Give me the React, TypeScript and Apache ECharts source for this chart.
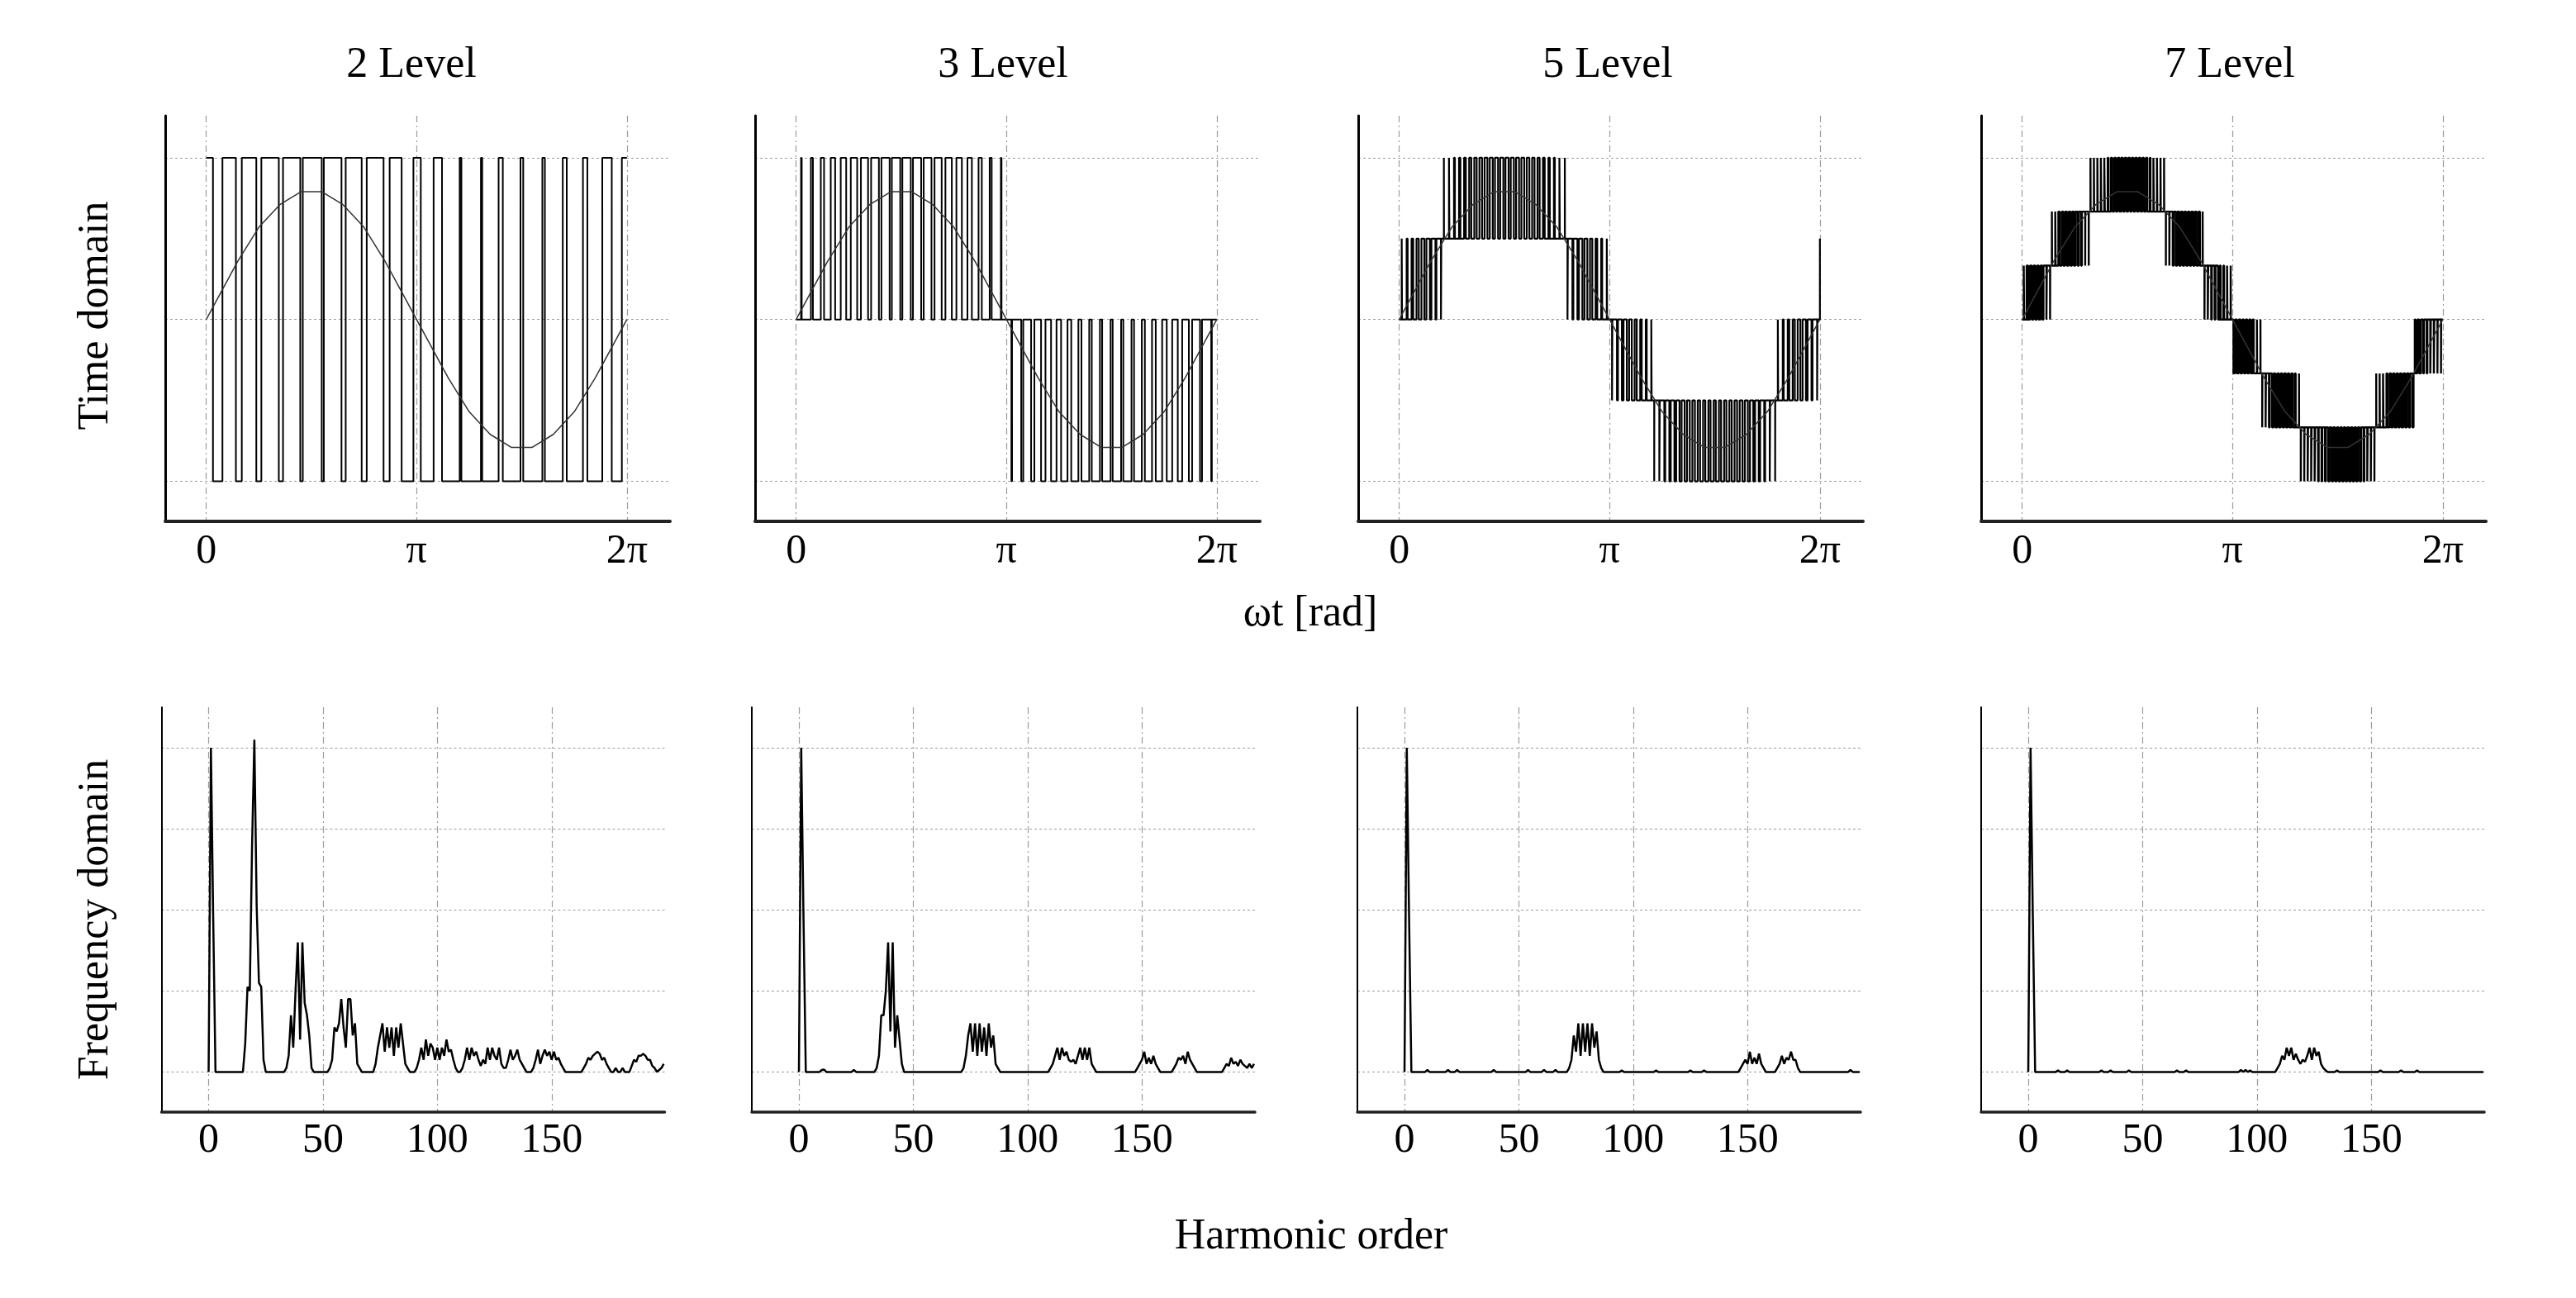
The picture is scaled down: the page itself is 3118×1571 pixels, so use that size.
import React, { useEffect, useRef } from 'react';
import * as echarts from 'echarts';

const W = 3118;
const H = 1571;
const FONT = 'Liberation Serif';

// ---------- texts / ticks ----------
const panelTitles = ['2 Level', '3 Level', '5 Level', '7 Level'];
const timeTickValues = [0, 1, 2];
const timeTickLabels = ['0', 'π', '2π'];
const timeLevelLines = [-1, 0, 1];
const freqTickValues = [0, 50, 100, 150];
const freqLevelLines = [0, 0.2, 0.4, 0.6, 0.8];

// ---------- reference sine (x in units of π) ----------
const sineX = [0, 0.05, 0.15, 0.25, 0.35, 0.45, 0.55, 0.65, 0.75, 0.85, 0.95, 1.05, 1.15, 1.25, 1.35, 1.45, 1.55, 1.65, 1.75, 1.85, 1.95, 2.0];
const sineY = [0, 0.12, 0.36, 0.57, 0.71, 0.79, 0.79, 0.71, 0.57, 0.36, 0.12, -0.12, -0.36, -0.57, -0.71, -0.79, -0.79, -0.71, -0.57, -0.36, -0.12, 0];

// ---------- 2 level: low (-1) intervals, x in units of π ----------
const level2LowStart = [0.032, 0.141, 0.238, 0.345, 0.447, 0.549, 0.643, 0.739, 0.843, 0.929, 1.020, 1.121, 1.213, 1.312, 1.410, 1.507, 1.610, 1.714, 1.812, 1.928];
const level2LowEnd = [0.077, 0.169, 0.262, 0.365, 0.459, 0.559, 0.663, 0.763, 0.872, 0.985, 1.081, 1.205, 1.306, 1.390, 1.494, 1.598, 1.695, 1.791, 1.883, 1.976];

// ---------- multilevel: bands [from, to, base level, pulse level] + pulse duty per slot ----------
const level3Bands = [[0, 1, 0, 1], [1, 2, 0, -1]];
const level3Duty = [
  [0.06, 0.19, 0.31, 0.42, 0.52, 0.61, 0.68, 0.74, 0.78, 0.80, 0.80, 0.78, 0.74, 0.68, 0.61, 0.52, 0.42, 0.31, 0.19, 0.06],
  [0.06, 0.19, 0.31, 0.42, 0.52, 0.61, 0.68, 0.74, 0.78, 0.80, 0.80, 0.78, 0.74, 0.68, 0.61, 0.52, 0.42, 0.31, 0.19, 0.06],
];

const level5Bands = [[0, 0.2, 0, 0.5], [0.2, 0.8, 0.5, 1], [0.8, 1, 0, 0.5], [1, 1.2, 0, -0.5], [1.2, 1.8, -0.5, -1], [1.8, 2, 0, -0.5]];
const level5Duty = [
  [0.06, 0.19, 0.31, 0.43, 0.55, 0.66, 0.77, 0.87],
  [0.02, 0.08, 0.17, 0.26, 0.33, 0.40, 0.45, 0.50, 0.54, 0.57, 0.59, 0.60, 0.60, 0.59, 0.57, 0.54, 0.50, 0.45, 0.40, 0.33, 0.26, 0.17, 0.08, 0.02],
  [0.87, 0.77, 0.66, 0.55, 0.43, 0.31, 0.19, 0.06],
  [0.06, 0.19, 0.31, 0.43, 0.55, 0.66, 0.77, 0.87],
  [0.02, 0.08, 0.17, 0.26, 0.33, 0.40, 0.45, 0.50, 0.54, 0.57, 0.59, 0.60, 0.60, 0.59, 0.57, 0.54, 0.50, 0.45, 0.40, 0.33, 0.26, 0.17, 0.08, 0.02],
  [0.87, 0.77, 0.66, 0.55, 0.43, 0.31, 0.19, 0.06],
];
const level5EndLevel = 0.5;

const level7Bands = [
  [0, 0.1333, 0, 0.333], [0.1333, 0.3167, 0.333, 0.667], [0.3167, 0.6833, 0.667, 1], [0.6833, 0.8667, 0.333, 0.667], [0.8667, 1, 0, 0.333],
  [1, 1.1333, 0, -0.333], [1.1333, 1.3167, -0.333, -0.667], [1.3167, 1.6833, -0.667, -1], [1.6833, 1.8667, -0.333, -0.667], [1.8667, 2, 0, -0.333],
];
const level7Duty = [
  [0.1, 0.45, 0.5, 0.5, 0.5, 0.55, 0.85, 0.92],
  [0.05, 0.12, 0.35, 0.45, 0.5, 0.5, 0.55, 0.6, 0.65, 0.95, 0.98],
  [0.04, 0.08, 0.1, 0.12, 0.15, 0.2, 0.4, 0.45, 0.5, 0.5, 0.5, 0.5, 0.5, 0.5, 0.5, 0.45, 0.4, 0.2, 0.12, 0.1, 0.08, 0.04],
  [0.97, 0.9, 0.6, 0.55, 0.5, 0.5, 0.5, 0.5, 0.45, 0.4, 0.05],
  [0.9, 0.85, 0.8, 0.75, 0.25, 0.2, 0.1, 0.05],
  [0.45, 0.5, 0.5, 0.5, 0.5, 0.5, 0.92, 0.95],
  [0.05, 0.1, 0.2, 0.45, 0.5, 0.5, 0.5, 0.5, 0.55, 0.6, 0.95],
  [0.04, 0.07, 0.1, 0.12, 0.15, 0.18, 0.2, 0.25, 0.4, 0.45, 0.5, 0.5, 0.5, 0.5, 0.5, 0.5, 0.45, 0.4, 0.2, 0.12, 0.08, 0.04],
  [0.95, 0.9, 0.85, 0.6, 0.5, 0.5, 0.5, 0.5, 0.45, 0.4, 0.3],
  [0.5, 0.45, 0.25, 0.2, 0.15, 0.12, 0.08, 0.04],
];

// ---------- spectra: [harmonic order, amplitude (p.u.)], all other orders 0 ----------
const spectrum2Level = [
  [1, 0.80], [2, 0.38],
  [16, 0.07], [17, 0.21], [18, 0.20], [19, 0.56], [20, 0.82], [21, 0.41], [22, 0.22], [23, 0.21], [24, 0.03],
  [34, 0.01], [35, 0.04], [36, 0.14], [37, 0.06], [38, 0.20], [39, 0.32], [40, 0.08], [41, 0.32], [42, 0.17], [43, 0.14], [44, 0.09], [45, 0.01],
  [53, 0.01], [54, 0.03], [55, 0.11], [56, 0.10], [57, 0.12], [58, 0.18], [59, 0.11], [60, 0.06], [61, 0.18], [62, 0.18], [63, 0.09], [64, 0.12], [65, 0.02], [66, 0.01],
  [73, 0.02], [74, 0.06], [75, 0.09], [76, 0.12], [77, 0.05], [78, 0.11], [79, 0.06], [80, 0.11], [81, 0.04], [82, 0.11], [83, 0.06], [84, 0.12], [85, 0.07], [86, 0.02], [87, 0.01],
  [91, 0.01], [92, 0.03], [93, 0.06], [94, 0.03], [95, 0.08], [96, 0.04], [97, 0.07], [98, 0.06], [99, 0.03], [100, 0.06], [101, 0.03], [102, 0.06], [103, 0.04], [104, 0.08], [105, 0.05], [106, 0.055], [107, 0.03], [108, 0.01],
  [111, 0.01], [112, 0.03], [113, 0.06], [114, 0.03], [115, 0.06], [116, 0.04], [117, 0.05], [118, 0.03], [119, 0.015], [120, 0.03], [121, 0.02], [122, 0.06], [123, 0.03], [124, 0.06], [125, 0.04], [126, 0.03], [127, 0.06], [128, 0.02], [129, 0.01],
  [130, 0.01], [131, 0.03], [132, 0.055], [133, 0.03], [134, 0.04], [135, 0.055], [136, 0.03], [137, 0.02], [138, 0.01],
  [142, 0.01], [143, 0.03], [144, 0.055], [145, 0.02], [146, 0.04], [147, 0.055], [148, 0.04], [149, 0.05], [150, 0.03], [151, 0.05], [152, 0.03], [153, 0.035], [154, 0.02], [155, 0.01],
  [164, 0.01], [165, 0.02], [166, 0.035], [167, 0.03], [168, 0.04], [169, 0.045], [170, 0.05], [171, 0.045], [172, 0.03], [173, 0.035], [174, 0.02], [175, 0.01],
  [178, 0.01], [181, 0.01],
  [185, 0.015], [186, 0.03], [187, 0.025], [188, 0.04], [189, 0.04], [190, 0.045], [191, 0.04], [192, 0.03], [193, 0.03], [194, 0.015], [195, 0.01], [197, 0.005], [198, 0.01], [199, 0.02],
];
const spectrum3Level = [
  [1, 0.80], [2, 0.38], [10, 0.005], [11, 0.006], [24, 0.005],
  [34, 0.01], [35, 0.04], [36, 0.14], [37, 0.14], [38, 0.20], [39, 0.32], [40, 0.10], [41, 0.32], [42, 0.06], [43, 0.14], [44, 0.08], [45, 0.02],
  [72, 0.01], [73, 0.04], [74, 0.09], [75, 0.12], [76, 0.05], [77, 0.12], [78, 0.04], [79, 0.12], [80, 0.05], [81, 0.11], [82, 0.04], [83, 0.12], [84, 0.06], [85, 0.09], [86, 0.02], [87, 0.01],
  [110, 0.01], [111, 0.02], [112, 0.04], [113, 0.06], [114, 0.03], [115, 0.06], [116, 0.04], [117, 0.05], [118, 0.03], [119, 0.025], [120, 0.03], [121, 0.02], [122, 0.04], [123, 0.06], [124, 0.03], [125, 0.06], [126, 0.03], [127, 0.06], [128, 0.02], [129, 0.01],
  [148, 0.01], [149, 0.02], [150, 0.03], [151, 0.05], [152, 0.02], [153, 0.035], [154, 0.02], [155, 0.04], [156, 0.02], [157, 0.01],
  [164, 0.01], [165, 0.02], [166, 0.035], [167, 0.03], [168, 0.04], [169, 0.02], [170, 0.05], [171, 0.03], [172, 0.02], [173, 0.01],
  [186, 0.01], [187, 0.02], [188, 0.015], [189, 0.035], [190, 0.02], [191, 0.025], [192, 0.015], [193, 0.03], [194, 0.02], [195, 0.015], [196, 0.01], [197, 0.02], [198, 0.01], [199, 0.02],
];
const spectrum5Level = [
  [1, 0.80], [2, 0.38], [10, 0.005], [19, 0.005], [23, 0.005], [39, 0.005], [54, 0.005], [61, 0.005], [66, 0.005],
  [72, 0.01], [73, 0.03], [74, 0.09], [75, 0.05], [76, 0.12], [77, 0.04], [78, 0.12], [79, 0.05], [80, 0.12], [81, 0.04], [82, 0.12], [83, 0.06], [84, 0.10], [85, 0.03], [86, 0.01],
  [95, 0.004], [110, 0.004], [125, 0.004], [131, 0.004],
  [147, 0.01], [148, 0.02], [149, 0.03], [150, 0.02], [151, 0.05], [152, 0.02], [153, 0.035], [154, 0.02], [155, 0.045], [156, 0.02], [157, 0.01],
  [163, 0.01], [164, 0.02], [165, 0.04], [166, 0.02], [167, 0.035], [168, 0.03], [169, 0.05], [170, 0.03], [171, 0.03], [172, 0.01],
  [195, 0.005],
];
const spectrum7Level = [
  [1, 0.80], [2, 0.38], [13, 0.004], [17, 0.004], [32, 0.004], [36, 0.004], [44, 0.004], [65, 0.004], [69, 0.004], [93, 0.005], [95, 0.005], [97, 0.004],
  [109, 0.01], [110, 0.02], [111, 0.04], [112, 0.03], [113, 0.06], [114, 0.04], [115, 0.06], [116, 0.03], [117, 0.045], [118, 0.03], [119, 0.02], [120, 0.03], [121, 0.025], [122, 0.04], [123, 0.06], [124, 0.03], [125, 0.06], [126, 0.04], [127, 0.05], [128, 0.02], [129, 0.01],
  [130, 0.004], [135, 0.004], [154, 0.004], [163, 0.004], [170, 0.004],
];
const maxHarmonic = 199;

// ---------- builders ----------
function twoLevelPoints(): number[][] {
  const pts: number[][] = [[0, 1]];
  level2LowStart.forEach((a, j) => {
    const b = level2LowEnd[j];
    pts.push([a, 1], [a, -1], [b, -1], [b, 1]);
  });
  pts.push([2, 1]);
  return pts;
}

function bandPoints(bands: number[][], duties: number[][], endLevel?: number): number[][] {
  const pts: number[][] = [];
  let lastY: number | null = null;
  bands.forEach(([from, to, base, peak], i) => {
    const d = duties[i];
    const pitch = (to - from) / d.length;
    if (lastY !== null && lastY !== base) pts.push([from, lastY]);
    pts.push([from, base]);
    d.forEach((duty, k) => {
      const c = from + pitch * (k + 0.5);
      const hw = (duty * pitch) / 2;
      pts.push([c - hw, base], [c - hw, peak], [c + hw, peak], [c + hw, base]);
    });
    pts.push([to, base]);
    lastY = base;
  });
  if (endLevel !== undefined && endLevel !== lastY) pts.push([2, endLevel]);
  return pts;
}

function spectrumPoints(lines: number[][]): number[][] {
  const m = new Map<number, number>();
  lines.forEach(([h, v]) => m.set(h, v));
  const out: number[][] = [];
  for (let h = 0; h <= maxHarmonic; h++) out.push([h, m.get(h) ?? 0]);
  return out;
}

// ---------- layout ----------
const topLefts = [200, 914, 1644, 2398];
const topTop = 140;
const topWidth = 611;
const topHeight = 490.5;
const botLefts = [195.5, 910, 1643, 2398];
const botTop = 856;
const botWidth = 609;
const botHeight = 489.5;
const titleX = [498, 1214, 1946, 2699];
const pwmWidths = [2, 2, 2.2, 2.4];

const gridColor = '#9c9c9c';

function buildOption(): any {
  const pwm = [
    twoLevelPoints(),
    bandPoints(level3Bands, level3Duty),
    bandPoints(level5Bands, level5Duty, level5EndLevel),
    bandPoints(level7Bands, level7Duty),
  ];
  const spectra = [spectrum2Level, spectrum3Level, spectrum5Level, spectrum7Level].map(spectrumPoints);
  const sine = sineX.map((x, j) => [x, sineY[j]]);

  const grid: any[] = [];
  const xAxis: any[] = [];
  const yAxis: any[] = [];
  const series: any[] = [];

  for (let i = 0; i < 4; i++) {
    grid.push({ left: topLefts[i], top: topTop, width: topWidth, height: topHeight, containLabel: false });
    xAxis.push({
      type: 'value', gridIndex: i, min: -0.195, max: 2.205,
      axisLine: { show: true, onZero: false, lineStyle: { color: '#222', width: 4 } },
      axisTick: { show: false, customValues: timeTickValues },
      axisLabel: {
        customValues: timeTickValues,
        formatter: (v: number) => timeTickLabels[timeTickValues.indexOf(Math.round(v))] ?? '',
        fontFamily: FONT, fontSize: 50, color: '#000', margin: 8,
      },
      splitLine: { show: true, lineStyle: { color: gridColor, width: 1.2, type: [8, 4, 2, 4] } },
    });
    yAxis.push({
      type: 'value', gridIndex: i, min: -1.245, max: 1.26,
      axisLine: { show: true, onZero: false, lineStyle: { color: '#000', width: 3 } },
      axisTick: { show: false, customValues: timeLevelLines },
      axisLabel: { show: false },
      splitLine: { show: true, lineStyle: { color: gridColor, width: 1.2, type: [3, 3] } },
    });
  }
  for (let i = 0; i < 4; i++) {
    grid.push({ left: botLefts[i], top: botTop, width: botWidth, height: botHeight, containLabel: false });
    xAxis.push({
      type: 'value', gridIndex: 4 + i, min: -20.6, max: 199.4,
      axisLine: { show: true, onZero: false, lineStyle: { color: '#222', width: 3.5 } },
      axisTick: { show: false, customValues: freqTickValues },
      axisLabel: { customValues: freqTickValues, fontFamily: FONT, fontSize: 50, color: '#000', margin: 6 },
      splitLine: { show: true, lineStyle: { color: gridColor, width: 1.2, type: [8, 4, 2, 4] } },
    });
    yAxis.push({
      type: 'value', gridIndex: 4 + i, min: -0.098, max: 0.9,
      axisLine: { show: true, onZero: false, lineStyle: { color: '#000', width: 2 } },
      axisTick: { show: false, customValues: freqLevelLines },
      axisLabel: { show: false },
      splitLine: { show: true, lineStyle: { color: gridColor, width: 1.2, type: [3, 3] } },
    });
  }

  for (let i = 0; i < 4; i++) {
    series.push({
      type: 'line', xAxisIndex: i, yAxisIndex: i, data: pwm[i], showSymbol: false, symbol: 'none',
      lineStyle: { color: '#000', width: pwmWidths[i] }, z: 2, silent: true, emphasis: { disabled: true },
    });
    series.push({
      type: 'line', xAxisIndex: i, yAxisIndex: i, data: sine, showSymbol: false, symbol: 'none',
      lineStyle: { color: '#333', width: 1.5 }, z: 3, silent: true, emphasis: { disabled: true },
    });
    series.push({
      type: 'line', xAxisIndex: 4 + i, yAxisIndex: 4 + i, data: spectra[i], showSymbol: false, symbol: 'none',
      lineStyle: { color: '#000', width: 2.5 }, z: 2, silent: true, emphasis: { disabled: true },
    });
  }

  const textStyle = (text: string) => ({ text, fill: '#000', fontFamily: FONT, fontSize: 52, align: 'center', verticalAlign: 'middle' });
  const graphic: any[] = [
    ...panelTitles.map((t, i) => ({ type: 'text', x: titleX[i], y: 75, style: textStyle(t), silent: true })),
    { type: 'text', x: 1586, y: 739, style: textStyle('ωt [rad]'), silent: true },
    { type: 'text', x: 1587, y: 1493, style: textStyle('Harmonic order'), silent: true },
    { type: 'text', x: 112, y: 382, rotation: Math.PI / 2, style: textStyle('Time domain'), silent: true },
    { type: 'text', x: 112, y: 1113, rotation: Math.PI / 2, style: textStyle('Frequency domain'), silent: true },
  ];

  return { animation: false, backgroundColor: '#fff', grid, xAxis, yAxis, series, graphic, tooltip: { show: false } };
}

export default function App() {
  const ref = useRef<HTMLDivElement>(null);
  useEffect(() => {
    document.body.style.margin = '0';
    const el = ref.current;
    if (!el) return;
    const chart = echarts.init(el, null, { renderer: 'svg' });
    chart.setOption(buildOption());
    return () => chart.dispose();
  }, []);
  return <div ref={ref} style={{ position: 'fixed', left: 0, top: 0, width: W, height: H, background: '#fff' }} />;
}
